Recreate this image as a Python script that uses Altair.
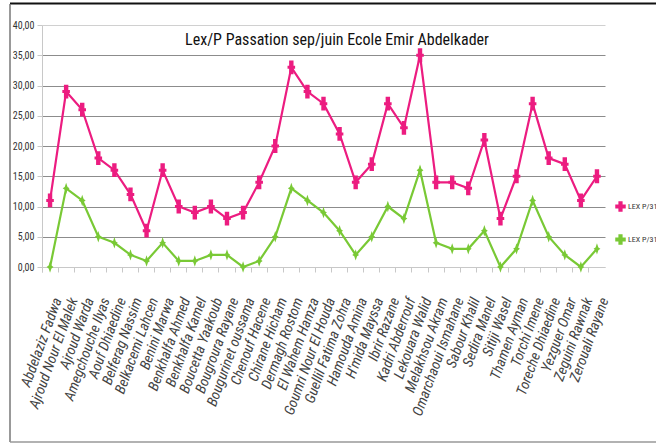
import altair as alt
import pandas as pd

names = [
    "Abdelaziz Fadwa", "Ajroud Nour El Malek", "Ajroud Warda", "Amegchouche Ilyas",
    "Aouf Dhiaedine", "Belferag Nassim", "Belkacemi Lahcen", "Benini Marwa",
    "Benkhalfa Ahmed", "Benkhalfa Kamel", "Boucetta Yaakoub", "Bougroura Rayane",
    "Bougurinet oussama", "Chenouf Hacene", "Chirane Hicham", "Dermagh Rostom",
    "El Wahem Hamza", "Goumri Nour El Houda", "Guellil Fatima Zohra", "Hamouda Amina",
    "H'mida Mayssa", "Ibrir Razane", "Kadri Abderrouf", "Lekouara Walid",
    "Melakhsou Akram", "Omarchaoui Ismahane", "Sabour Khalil", "Sedira Manel",
    "Sitiji Wasel", "Thamen Ayman", "Torchi Imene", "Toreche Dhiaedine",
    "Yezguer Omar", "Zeguini Rawnak", "Zerouali Rayane",
]
lex_sep = [11, 29, 26, 18, 16, 12, 6, 16, 10, 9, 10, 8, 9, 14, 20, 33, 29, 27,
           22, 14, 17, 27, 23, 35, 14, 14, 13, 21, 8, 15, 27, 18, 17, 11, 15]
lex_juin = [0, 13, 11, 5, 4, 2, 1, 4, 1, 1, 2, 2, 0, 1, 5, 13, 11, 9,
            6, 2, 5, 10, 8, 16, 4, 3, 3, 6, 0, 3, 11, 5, 2, 0, 3]
series_names = ["LEX P/31 sep", "LEX P/31 juin"]
colors = ["#EC1C80", "#79C935"]
title_text = "Lex/P Passation sep/juin Ecole Emir Abdelkader"
y_ticks = [0, 5, 10, 15, 20, 25, 30, 35, 40]

rows = []
for i, n in enumerate(names):
    rows.append({"eleve": n, "serie": series_names[0], "valeur": lex_sep[i], "idx": i})
    rows.append({"eleve": n, "serie": series_names[1], "valeur": lex_juin[i], "idx": i})
df = pd.DataFrame(rows)

W, H = 563, 242
NARROW = "Noto Sans ExtraCondensed, Noto Sans Condensed, Roboto Condensed, Roboto, sans-serif"
pink_path = "M-0.32,-1H0.32V-0.22H0.55V0.22H0.32V1H-0.32V0.22H-0.55V-0.22H-0.32Z"
green_path = "M0,-1L0.25,-0.25L0.6,0L0.25,0.25L0,1L-0.25,0.25L-0.6,0L-0.25,-0.25Z"

x = alt.X(
    "eleve:N", sort=names,
    scale=alt.Scale(type="band", paddingInner=0, paddingOuter=0),
    axis=alt.Axis(
        title=None, labelAngle=-70, labelAlign="right", labelBaseline="middle",
        bandPosition=0, labelOffset=8, tickExtra=True, tickSize=5,
        tickColor="#c8c8c8", domainColor="#c8c8c8", labelFont=NARROW,
        labelFontStyle="italic", labelFontSize=14.5, labelColor="#444444",
        labelPadding=26, grid=False, labelLimit=250,
    ),
)
y = alt.Y(
    "valeur:Q", scale=alt.Scale(domain=[0, 40]),
    axis=alt.Axis(
        title=None, values=y_ticks,
        labelExpr="replace(format(datum.value, '.2f'), '.', ',')",
        grid=True,
        gridColor={"condition": {"test": "datum.value == 0 || datum.value == 40", "value": "#d0d0d0"}, "value": "#8c8c8c"},
        tickSize=5, tickColor="#c8c8c8", domainColor="#c8c8c8",
        labelFont=NARROW, labelFontSize=10, labelColor="#333333", labelPadding=3,
    ),
)
color_scale = alt.Scale(domain=series_names, range=colors)
legend = alt.Legend(
    orient="none", legendX=573, legendY=176, title=None, symbolType="cross",
    labelExpr="'LEX P/31'", labelFont=NARROW, labelFontSize=8, labelColor="#333333",
    symbolSize=110, symbolStrokeWidth=0, rowPadding=22, labelOffset=2,
)
color = alt.Color("serie:N", scale=color_scale, legend=legend)

lines = alt.Chart(df).mark_line(strokeWidth=2.2).encode(
    x=x, y=y, color=color, order="idx:Q",
)
points_sep = alt.Chart(df).transform_filter(
    alt.datum.serie == series_names[0]
).mark_point(filled=True, opacity=1, strokeWidth=0, shape=pink_path, size=190).encode(
    x=x, y=y, color=color,
)
points_juin = alt.Chart(df).transform_filter(
    alt.datum.serie == series_names[1]
).mark_point(filled=True, opacity=1, strokeWidth=0, shape=green_path, size=130).encode(
    x=x, y=y, color=color,
)

title = alt.Chart(pd.DataFrame({"t": [title_text]})).mark_text(
    font=NARROW, fontSize=16, color="#111111", align="center", baseline="middle"
).encode(text="t:N", x=alt.value(295), y=alt.value(15))

one = pd.DataFrame({"a": [0]})
top_rule = alt.Chart(one).mark_rule(color="#111111", strokeWidth=2).encode(
    x=alt.value(-32), x2=alt.value(620), y=alt.value(-21.5))
left_rule = alt.Chart(one).mark_rule(color="#777777", strokeWidth=1.5).encode(
    x=alt.value(-32), y=alt.value(-21), y2=alt.value(417))
bottom_rule = alt.Chart(one).mark_rule(color="#999999", strokeWidth=1.5).encode(
    x=alt.value(-32), x2=alt.value(620), y=alt.value(417))

chart = alt.layer(lines, points_sep, points_juin, title, top_rule, left_rule, bottom_rule).properties(
    width=W, height=H,
    autosize=alt.AutoSizeParams(type="none"),
    padding={"left": 42, "top": 25, "right": 51, "bottom": 176},
).configure_view(stroke=None)

chart.save("out.html", embed_options={"renderer": "svg", "actions": False})
